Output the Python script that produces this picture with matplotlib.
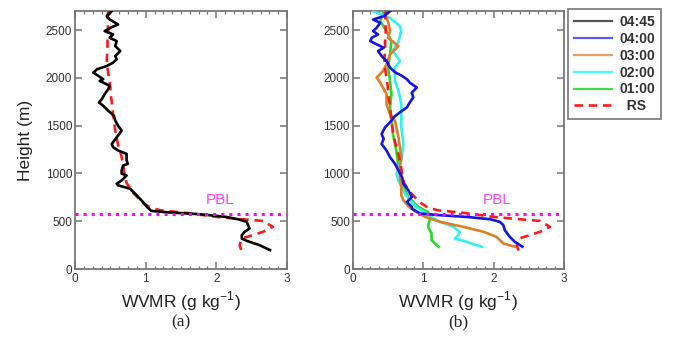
import matplotlib
matplotlib.use("Agg")
import matplotlib.pyplot as plt
from matplotlib.ticker import MultipleLocator
from matplotlib.lines import Line2D

plt.rcParams['font.family'] = ['Liberation Sans', 'DejaVu Sans']
plt.rcParams['mathtext.fontset'] = 'custom'
plt.rcParams['mathtext.rm'] = 'Liberation Sans'

# ---- data (height in m, WVMR in g/kg) ----
h_0445 = [2698, 2646, 2611, 2559, 2531, 2490, 2455, 2420, 2385, 2333, 2281, 2229, 2194, 2160,
          2125, 2090, 2055, 2021, 1986, 1969, 1917, 1882, 1830, 1778, 1743, 1708, 1656, 1604,
          1552, 1500, 1448, 1378, 1309, 1274, 1240, 1205, 1135, 1100, 1083, 1031, 997, 979,
          927, 892, 875, 851, 840, 788, 719, 649, 608, 594, 573, 545, 517, 493, 458, 424,
          389, 354, 319, 295, 250, 198]
x_0445 = [0.52, 0.45, 0.49, 0.61, 0.52, 0.42, 0.54, 0.49, 0.59, 0.57, 0.64, 0.57, 0.59, 0.54,
          0.45, 0.31, 0.26, 0.33, 0.40, 0.35, 0.49, 0.47, 0.42, 0.38, 0.34, 0.40, 0.47, 0.55,
          0.57, 0.61, 0.66, 0.59, 0.52, 0.54, 0.61, 0.73, 0.73, 0.75, 0.68, 0.66, 0.66, 0.73,
          0.66, 0.59, 0.61, 0.73, 0.78, 0.85, 0.94, 1.02, 1.08, 1.30, 1.77, 2.14, 2.33, 2.43,
          2.45, 2.47, 2.40, 2.36, 2.36, 2.43, 2.61, 2.76]

h_rs = [2700, 2600, 2500, 2400, 2300, 2200, 2100, 2000, 1900, 1800, 1700, 1600, 1500, 1400,
        1300, 1200, 1100, 1000, 900, 800, 700, 650, 615, 587, 545, 517, 503, 441, 389, 344,
        319, 250, 180]
x_rs = [0.47, 0.46, 0.47, 0.46, 0.46, 0.45, 0.46, 0.48, 0.50, 0.51, 0.53, 0.54, 0.56, 0.58,
        0.61, 0.65, 0.68, 0.70, 0.73, 0.82, 0.95, 1.05, 1.20, 1.58, 2.00, 2.43, 2.66, 2.80,
        2.66, 2.47, 2.36, 2.33, 2.36]

h_0400 = [2698, 2646, 2611, 2576, 2524, 2490, 2455, 2420, 2385, 2351, 2316, 2281, 2229, 2177,
          2108, 2059, 2021, 1986, 1951, 1899, 1847, 1795, 1743, 1691, 1639, 1587, 1552, 1483,
          1413, 1361, 1309, 1240, 1170, 1101, 1031, 962, 892, 823, 753, 701, 649, 632, 597,
          580, 563, 545, 521, 493, 458, 406, 337, 285, 233]
x_0400 = [0.53, 0.44, 0.29, 0.39, 0.34, 0.29, 0.36, 0.27, 0.25, 0.34, 0.44, 0.36, 0.41, 0.48,
          0.53, 0.60, 0.70, 0.77, 0.81, 0.91, 0.84, 0.86, 0.81, 0.77, 0.67, 0.58, 0.55, 0.46,
          0.41, 0.44, 0.41, 0.48, 0.53, 0.60, 0.65, 0.70, 0.72, 0.79, 0.84, 0.77, 0.84, 0.84,
          0.92, 0.96, 1.24, 1.62, 1.95, 2.09, 2.14, 2.16, 2.23, 2.30, 2.41]

h_0300 = [2698, 2594, 2490, 2420, 2333, 2246, 2142, 2073, 2003, 1951, 1899, 1830, 1726, 1622,
          1552, 1483, 1378, 1274, 1170, 1066, 962, 858, 771, 719, 649, 597, 545, 493, 441,
          389, 337, 267, 233]
x_0300 = [0.44, 0.50, 0.53, 0.50, 0.65, 0.53, 0.48, 0.43, 0.34, 0.39, 0.43, 0.48, 0.48, 0.53,
          0.60, 0.62, 0.65, 0.67, 0.69, 0.67, 0.67, 0.69, 0.69, 0.72, 0.80, 0.90, 1.03, 1.24,
          1.57, 1.86, 2.04, 2.14, 2.30]

h_0200 = [2698, 2628, 2542, 2490, 2385, 2281, 2177, 2108, 1969, 1865, 1726, 1622, 1483, 1309,
          1135, 997, 927, 788, 649, 580, 510, 441, 389, 354, 319, 295, 233]
x_0200 = [0.29, 0.53, 0.67, 0.69, 0.65, 0.57, 0.67, 0.60, 0.60, 0.65, 0.69, 0.69, 0.69, 0.72,
          0.69, 0.62, 0.65, 0.74, 0.90, 1.05, 1.19, 1.43, 1.52, 1.50, 1.45, 1.57, 1.83]

h_0100 = [2698, 2594, 2490, 2385, 2246, 2108, 1969, 1830, 1691, 1587, 1413, 1240, 1066, 892,
          753, 649, 597, 545, 441, 372, 302, 233]
x_0100 = [0.44, 0.39, 0.48, 0.55, 0.53, 0.50, 0.53, 0.55, 0.53, 0.55, 0.57, 0.62, 0.65, 0.70,
          0.79, 0.93, 1.07, 1.10, 1.07, 1.12, 1.12, 1.22]

pbl_height = 575

W, H = 674, 339
fig = plt.figure(figsize=(W / 100, H / 100), dpi=100)
ax_a = fig.add_axes([75 / W, 70 / H, 212 / W, 258 / H])
ax_b = fig.add_axes([352.7 / W, 70 / H, 211.3 / W, 258 / H])

spine_col = '#777777'
rs_style = dict(color='#ff1a1a', lw=1.9, dashes=(3.2, 2.2))


def style_axes(ax):
    ax.set_xlim(0, 3)
    ax.set_ylim(0, 2700)
    ax.xaxis.set_major_locator(MultipleLocator(1))
    ax.xaxis.set_minor_locator(MultipleLocator(0.125))
    ax.yaxis.set_major_locator(MultipleLocator(500))
    ax.tick_params(which='both', direction='in', top=True, right=True,
                   color=spine_col, labelcolor='#333333', labelsize=8.5)
    ax.tick_params(which='major', length=5, width=1.1)
    ax.tick_params(which='minor', length=2.5, width=0.9)
    ax.tick_params(axis='y', pad=2)
    ax.tick_params(axis='x', pad=3)
    for s in ax.spines.values():
        s.set_color(spine_col)
        s.set_linewidth(1.3)
    ax.axhline(pbl_height, color='#ff00ff', lw=2.2, ls=':', zorder=5)
    ax.text(2.05, 725, 'PBL', color='#ff44ff', fontsize=11, ha='center', va='center')
    ax.set_xlabel('WVMR (g kg$^{\\mathregular{-1}}$)', fontsize=12.5, color='#222222', va='top')
    ax.xaxis.set_label_coords(0.5, -0.08)


# panel (a)
ax_a.plot(x_rs, h_rs, **rs_style, zorder=3)
ax_a.plot(x_0445, h_0445, color='black', lw=1.9, zorder=4)
style_axes(ax_a)
ax_a.set_ylabel('Height (m)', fontsize=12.5, color='#222222')
ax_a.yaxis.set_label_coords(-0.2, 0.5)

# panel (b)
ax_b.plot(x_0100, h_0100, color='#22dd22', lw=1.9, zorder=3)
ax_b.plot(x_0200, h_0200, color='#33f0f0', lw=1.9, zorder=3)
ax_b.plot(x_0300, h_0300, color='#dd7f25', lw=1.9, zorder=3)
ax_b.plot(x_rs, h_rs, **rs_style, zorder=3)
ax_b.plot(x_0400, h_0400, color='#1414e6', lw=1.9, zorder=4)
style_axes(ax_b)

handles = [Line2D([], [], color='#555555', lw=1.6),
           Line2D([], [], color='#5a5af0', lw=1.6),
           Line2D([], [], color='#e8a060', lw=1.6),
           Line2D([], [], color='#40ffff', lw=1.6),
           Line2D([], [], color='#40e040', lw=1.6),
           Line2D([], [], **rs_style)]
labels = ['04:45', '04:00', '03:00', '02:00', '01:00', '  RS']
leg = fig.legend(handles, labels, loc='upper left', bbox_to_anchor=(568 / W, 1 - 9 / H),
                 bbox_transform=fig.transFigure, borderaxespad=0, fancybox=False,
                 framealpha=1, edgecolor=spine_col, prop={'weight': 'bold', 'size': 10},
                 handlelength=2.75, handletextpad=0.5, labelspacing=0.2, borderpad=0.45)
leg.get_frame().set_linewidth(1.2)
for t in leg.get_texts():
    t.set_color('#333333')

fig.text(181 / W, 1 - 322 / H, '(a)', family='Liberation Serif', fontsize=12.5,
         ha='center', va='center', color='#222222')
fig.text(458 / W, 1 - 322 / H, '(b)', family='Liberation Serif', fontsize=12.5,
         ha='center', va='center', color='#222222')

fig.savefig('out.png', dpi=100)
